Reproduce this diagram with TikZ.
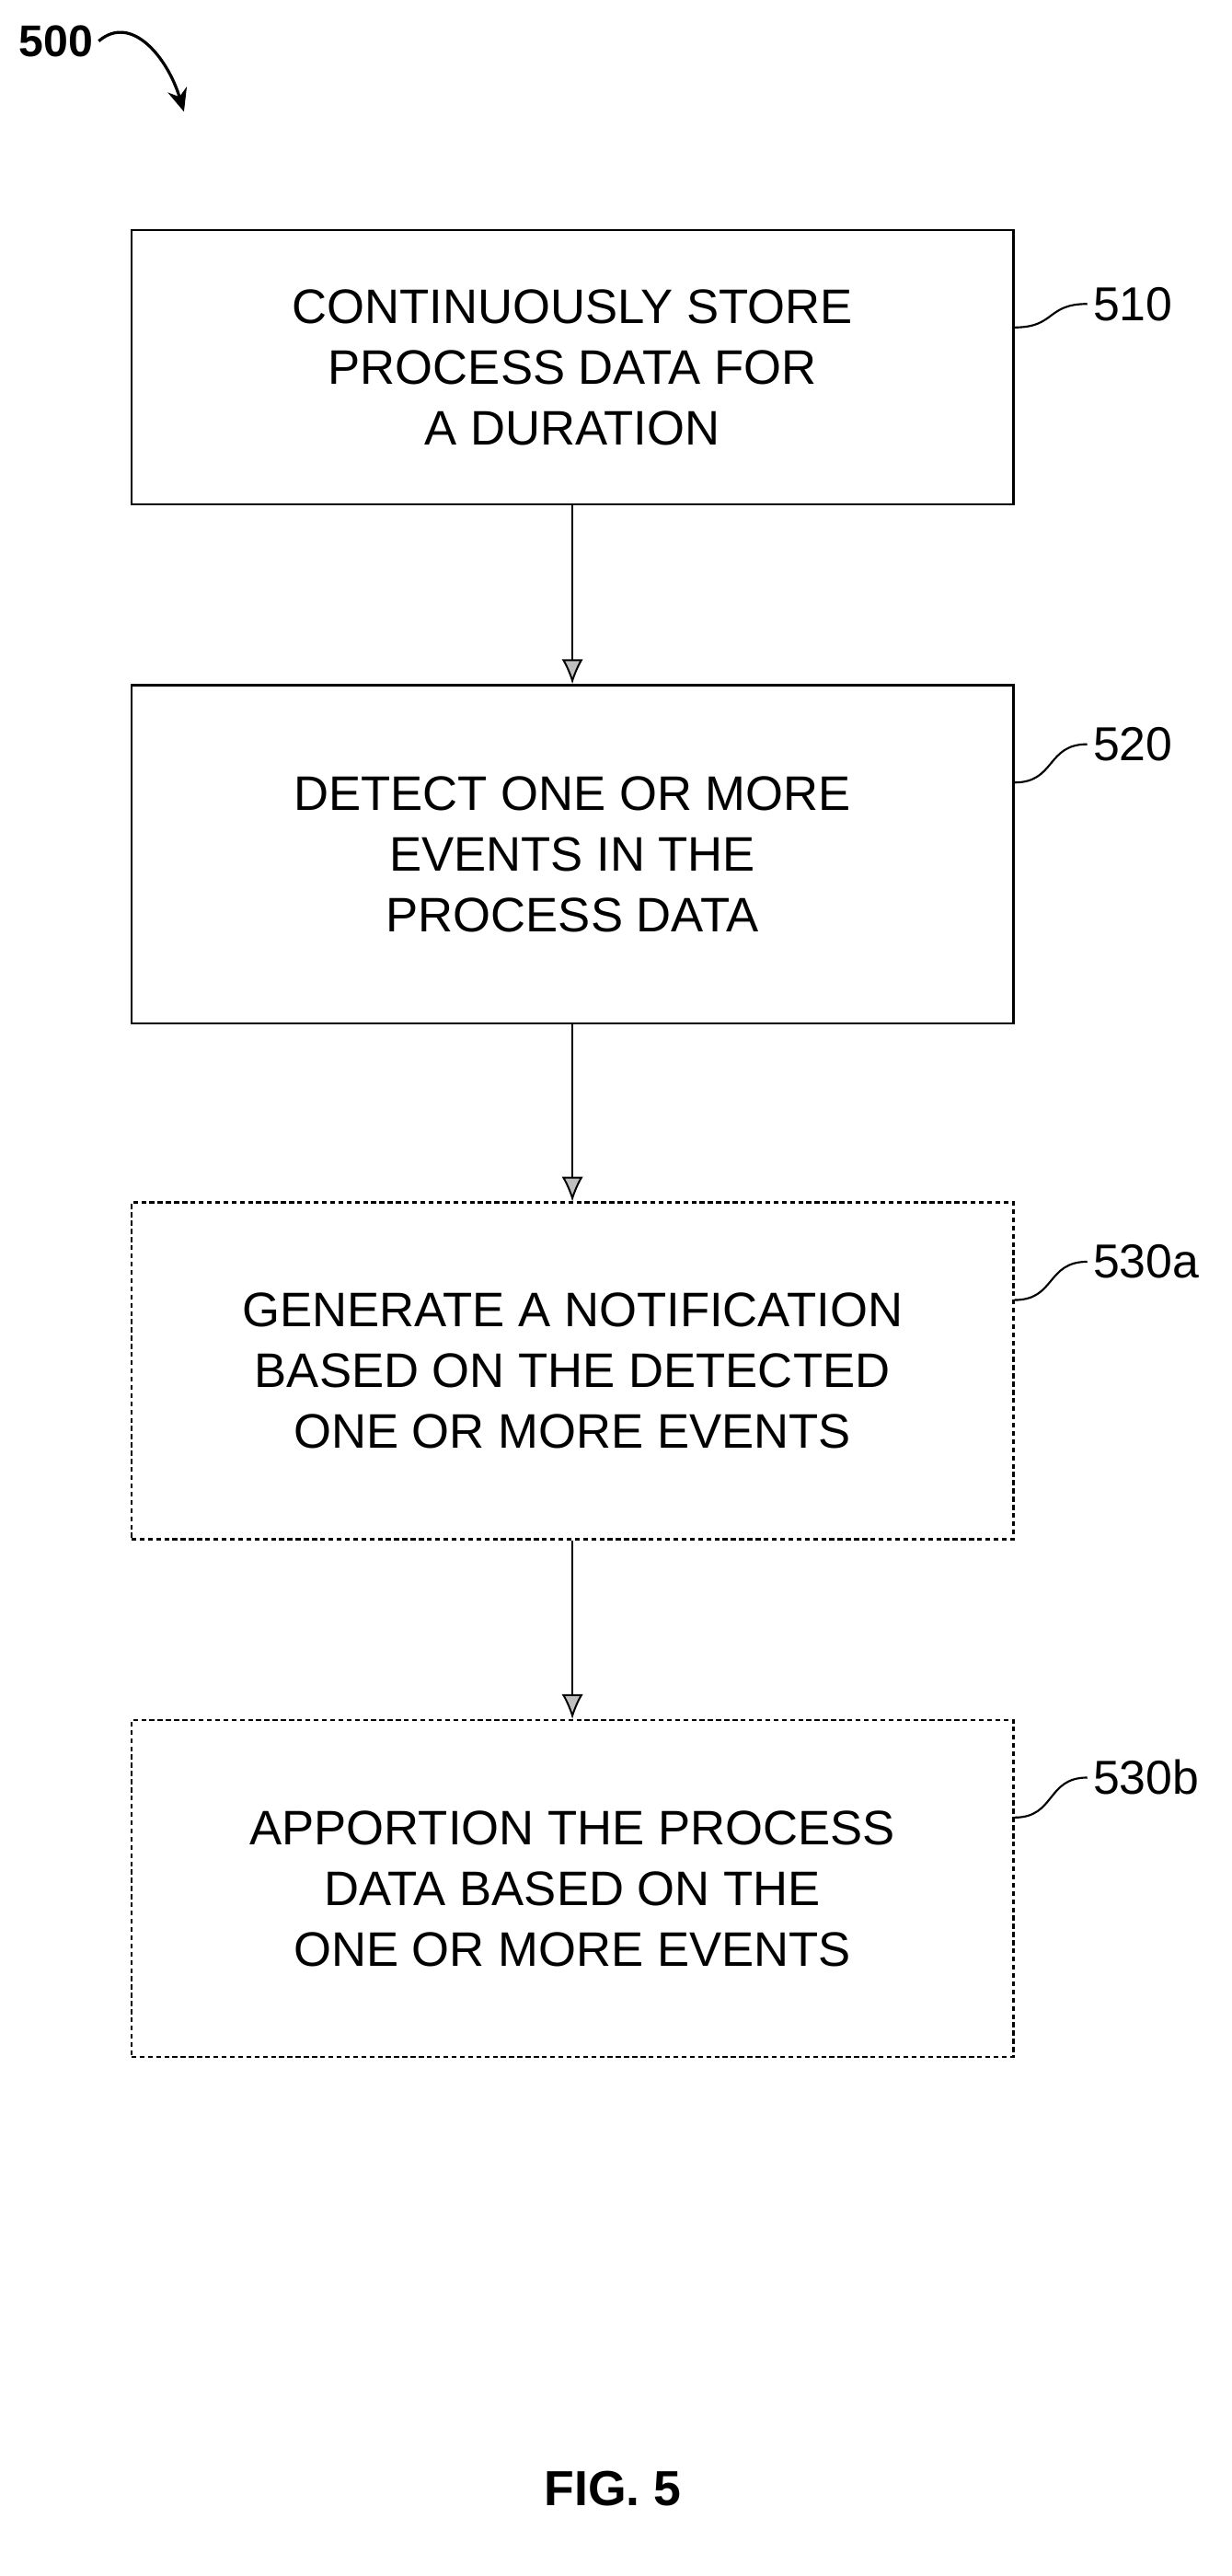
\documentclass[tikz,border=0pt]{standalone}
\usepackage{fontspec}
\setmainfont{Liberation Sans}
\usetikzlibrary{arrows.meta}
\begin{document}
\begin{tikzpicture}[x=1pt,y=-1pt,
        step box/.style={draw, line width=1.4pt, minimum width=537pt, align=center, font=\fontsize{29.5}{37}\selectfont},
        opt box/.style={step box, densely dashed},
        flow/.style={draw, line width=1.1pt, -{Latex[length=15pt,width=13pt,fill=gray!50]}},
        tag/.style={font=\fontsize{29}{30}\selectfont, anchor=west}]
        \useasboundingbox (0,0) rectangle (750,1568);
        \node[step box, minimum height=167pt] (s510) at (348.5,223.5) {CONTINUOUSLY STORE\\PROCESS DATA FOR\\A DURATION};
        \node[step box, minimum height=206pt] (s520) at (348.5,520) {DETECT ONE OR MORE\\EVENTS IN THE\\PROCESS DATA};
        \node[opt box, minimum height=205pt] (s530a) at (348.5,834.5) {GENERATE A NOTIFICATION\\BASED ON THE DETECTED\\ONE OR MORE EVENTS};
        \node[opt box, minimum height=205pt] (s530b) at (348.5,1149.5) {APPORTION THE PROCESS\\DATA BASED ON THE\\ONE OR MORE EVENTS};
        \draw[flow] (s510) -- (s520);
        \draw[flow] (s520) -- (s530a);
        \draw[flow] (s530a) -- (s530b);
        % reference labels
        \node[tag] (l510) at (662,185) {510};
        \node[tag] (l520) at (662,453) {520};
        \node[tag] (l530a) at (662,768) {530a};
        \node[tag] (l530b) at (662,1082) {530b};
        \foreach \n in {510,520,530a,530b}
          \draw[line width=1.2pt] (s\n.north east) ++(0,60) .. controls +(25,0) and +(-25,0) .. (l\n.west);
        \node[font=\bfseries\fontsize{27}{30}\selectfont] (fig) at (8,25) [anchor=west] {500};
        \draw[line width=1.8pt, -{Stealth[length=14pt,width=12pt]}] (fig.east) .. controls (80,8) and (102,35) .. (112,68);
        \node[font=\bfseries\fontsize{30}{34}\selectfont] (cap) at (373,1515) {FIG. 5};
\end{tikzpicture}
\end{document}
